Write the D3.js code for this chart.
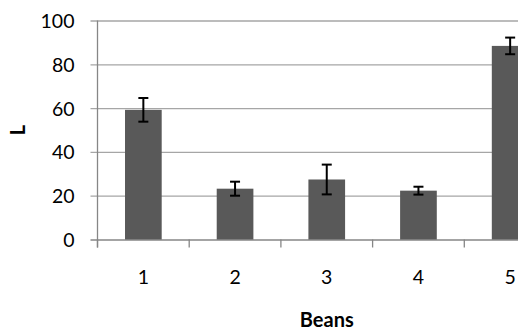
<!DOCTYPE html>
<html>
<head>
<meta charset="utf-8">
<script src="https://cdn.jsdelivr.net/npm/d3@7/dist/d3.min.js"></script>
<style>
  html, body { margin: 0; padding: 0; background: #fff; }
  svg { display: block; }
  text { font-family: Lato, "Open Sans", "Liberation Sans", sans-serif; fill: #000; }
</style>
</head>
<body>
<svg id="chart" width="518" height="330"></svg>
<script>
// Bean samples, mean L value and the half-width of each error bar
const categories = [1, 2, 3, 4, 5];
const values = [59.2, 23.2, 27.4, 22.3, 88.4];
const errors = [5.4, 3.2, 6.8, 1.8, 3.8];
const yTicks = [0, 20, 40, 60, 80, 100];
const xTitle = "Beans";
const yTitle = "L";

const svg = d3.select("#chart");

// The plot area runs past the right edge of the frame
const plot = { left: 97.5, right: 556, top: 20.5, bottom: 239.5 };

const x = d3.scaleBand()
  .domain(categories)
  .range([plot.left, plot.right])
  .paddingInner(0.6)
  .paddingOuter(0.3);

const y = d3.scaleLinear()
  .domain([0, 100])
  .range([plot.bottom, plot.top]);

// Horizontal gridlines with short tick stubs on the left
const yAxis = d3.axisLeft(y)
  .tickValues(yTicks)
  .tickSize(-(plot.right - plot.left) - 7)
  .tickSizeOuter(0)
  .tickPadding(0)
  .tickFormat(d3.format("d"));

const gy = svg.append("g")
  .attr("transform", `translate(${plot.left},0)`)
  .call(yAxis);
gy.select(".domain").remove();
gy.selectAll(".tick line")
  .attr("x1", -7)
  .attr("x2", plot.right - plot.left)
  .attr("stroke", d => d === 0 ? "#868686" : "#a6a6a6")
  .attr("stroke-width", 1.3);
gy.selectAll(".tick text")
  .attr("x", -23)
  .attr("dy", "0.36em")
  .attr("font-size", 19.5)
  .attr("fill", "#000")
  .style("font-family", "Lato, 'Open Sans', sans-serif");

// Category boundary ticks below the baseline
const boundaries = d3.range(categories.length + 1).map(i => plot.left + i * x.step());
svg.append("g").selectAll("line")
  .data(boundaries)
  .join("line")
  .attr("x1", d => d).attr("x2", d => d)
  .attr("y1", plot.bottom).attr("y2", plot.bottom + 8)
  .attr("stroke", "#868686")
  .attr("stroke-width", 1.3);

// Vertical axis line
svg.append("line")
  .attr("x1", plot.left).attr("x2", plot.left)
  .attr("y1", plot.top).attr("y2", plot.bottom + 8)
  .attr("stroke", "#868686")
  .attr("stroke-width", 1.3);

// Bars
svg.append("g").selectAll("rect")
  .data(categories)
  .join("rect")
  .attr("x", d => x(d))
  .attr("width", x.bandwidth())
  .attr("y", (d, i) => y(values[i]))
  .attr("height", (d, i) => y(0) - y(values[i]))
  .attr("fill", "#595959");

// Error bars
const capHalf = 5;
const eb = svg.append("g")
  .attr("stroke", "#000")
  .attr("stroke-width", 2)
  .selectAll("g")
  .data(categories)
  .join("g");
eb.append("line")
  .attr("x1", d => x(d) + x.bandwidth() / 2)
  .attr("x2", d => x(d) + x.bandwidth() / 2)
  .attr("y1", (d, i) => y(values[i] + errors[i]))
  .attr("y2", (d, i) => y(values[i] - errors[i]));
eb.append("line")
  .attr("x1", d => x(d) + x.bandwidth() / 2 - capHalf)
  .attr("x2", d => x(d) + x.bandwidth() / 2 + capHalf)
  .attr("y1", (d, i) => y(values[i] + errors[i]))
  .attr("y2", (d, i) => y(values[i] + errors[i]));
eb.append("line")
  .attr("x1", d => x(d) + x.bandwidth() / 2 - capHalf)
  .attr("x2", d => x(d) + x.bandwidth() / 2 + capHalf)
  .attr("y1", (d, i) => y(values[i] - errors[i]))
  .attr("y2", (d, i) => y(values[i] - errors[i]));

// Category labels
svg.append("g").selectAll("text")
  .data(categories)
  .join("text")
  .attr("x", d => x(d) + x.bandwidth() / 2)
  .attr("y", 284)
  .attr("text-anchor", "middle")
  .attr("font-size", 19.5)
  .text(d => d);

// Axis titles
svg.append("text")
  .attr("x", (plot.left + plot.right) / 2)
  .attr("y", 327)
  .attr("text-anchor", "middle")
  .attr("font-size", 20)
  .attr("font-weight", "bold")
  .text(xTitle);

svg.append("text")
  .attr("transform", `translate(25,${(plot.top + plot.bottom) / 2}) rotate(-90)`)
  .attr("text-anchor", "middle")
  .attr("font-size", 20)
  .attr("font-weight", "bold")
  .text(yTitle);
</script>
</body>
</html>
